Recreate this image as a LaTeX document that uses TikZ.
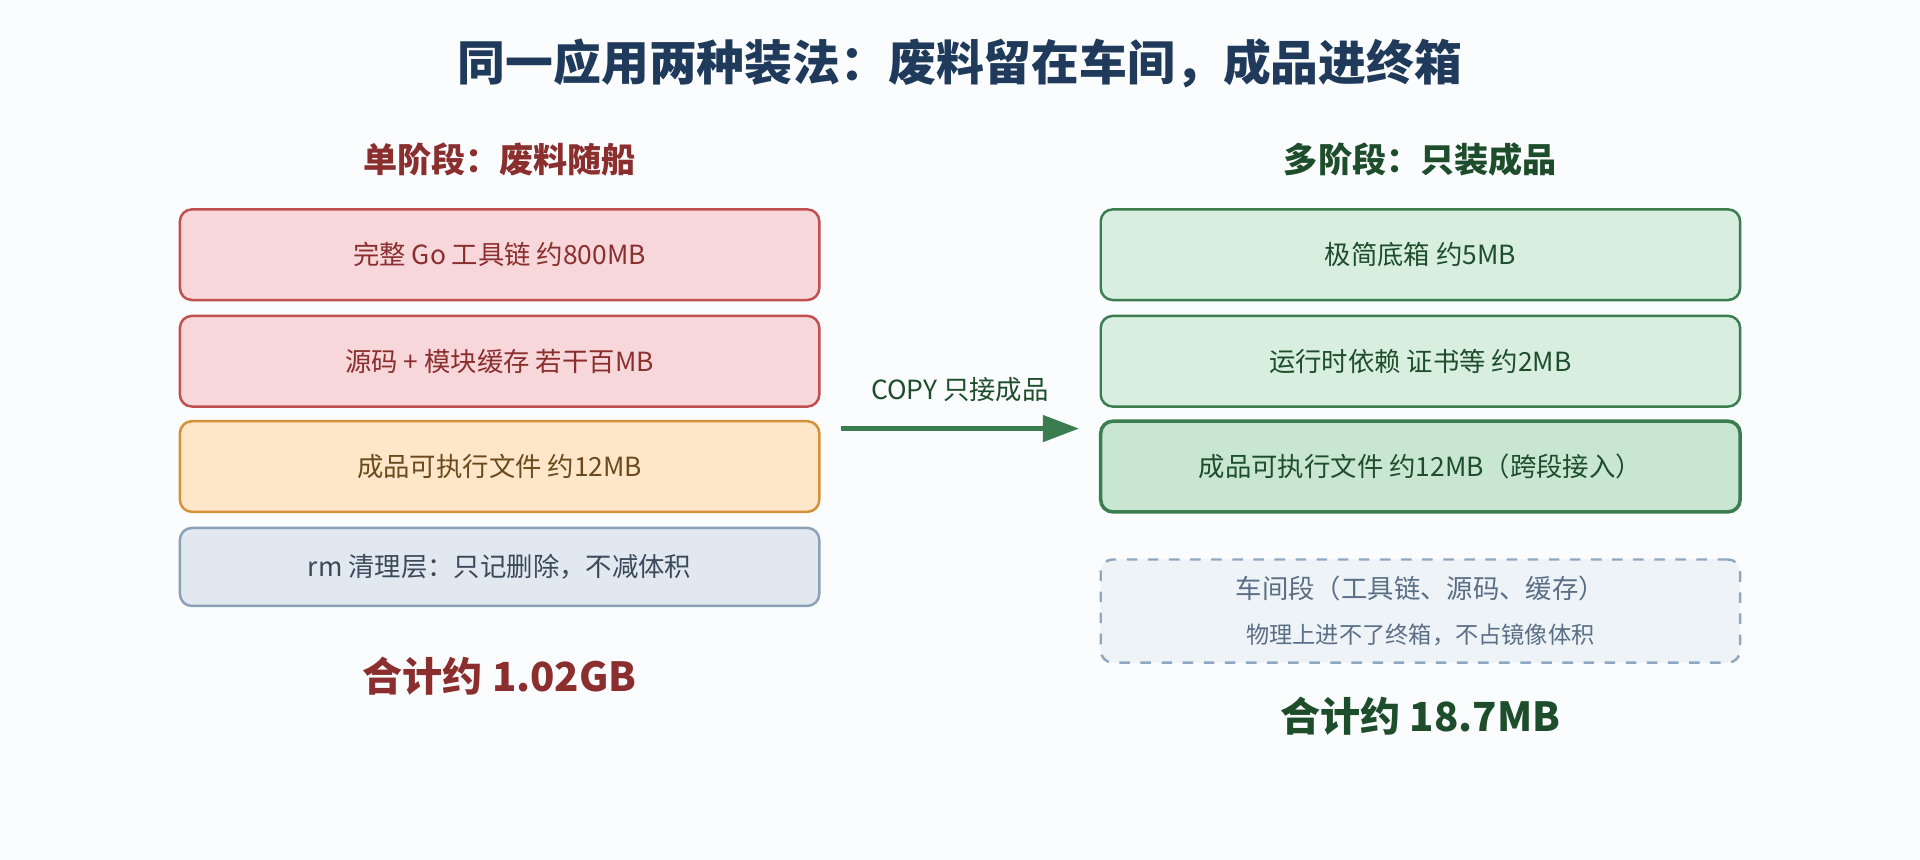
\documentclass[tikz,border=0pt]{standalone}
\usepackage{fontspec}
\setmainfont{Noto Sans CJK SC}
\usetikzlibrary{arrows.meta}
\definecolor{bg}{HTML}{FAFCFE}
\definecolor{navy}{HTML}{1F3A5A}
\definecolor{redtxt}{HTML}{8B2E2E}
\definecolor{redfill}{HTML}{F8D7DA}
\definecolor{redline}{HTML}{C0504D}
\definecolor{orfill}{HTML}{FDE7C8}
\definecolor{orline}{HTML}{D4913A}
\definecolor{orTxt}{HTML}{6B4A1E}
\definecolor{grfill}{HTML}{E2E8F0}
\definecolor{grline}{HTML}{8CA0B8}
\definecolor{grtxt}{HTML}{3A4A5A}
\definecolor{gntxt}{HTML}{1E4D2B}
\definecolor{gnfill}{HTML}{D8EFE0}
\definecolor{gnfill2}{HTML}{C8E6D2}
\definecolor{gnline}{HTML}{3B7D4F}
\definecolor{dsfill}{HTML}{EEF3F8}
\definecolor{dsline}{HTML}{8FA8C0}
\definecolor{dstxt}{HTML}{5A6E85}
\begin{document}
\begin{tikzpicture}[x=0.012245cm,y=-0.012245cm,
    box/.style={rectangle,rounded corners=0.12cm,line width=0.7pt,minimum width=6.39cm,minimum height=0.906cm,font=\fontsize{7.5}{9}\selectfont},
    redbox/.style={box,fill=redfill,draw=redline,text=redtxt},
    grnbox/.style={box,fill=gnfill,draw=gnline,text=gntxt},
    head/.style={font=\bfseries\fontsize{9.7}{11}\selectfont},
    total/.style={font=\bfseries\fontsize{11.4}{13}\selectfont}]
            % canvas
            \fill[bg] (0,0) rectangle (1568,702.3);
            \useasboundingbox (0,0) rectangle (1568,702.3);
            % title
            \node[text=navy,font=\bfseries\fontsize{13.6}{16}\selectfont] (title) at (784,52) {同一应用两种装法：废料留在车间，成品进终箱};
            % single stage
            \node[head,text=redtxt] (lhead) at (408,130) {单阶段：废料随船};
            \node[redbox] (l1) at (408,208) {完整 Go 工具链 约800MB};
            \node[redbox] (l2) at (408,295) {源码 + 模块缓存 若干百MB};
            \node[box,fill=orfill,draw=orline,text=orTxt] (l3) at (408,381) {成品可执行文件 约12MB};
            \node[box,fill=grfill,draw=grline,text=grtxt,minimum height=0.78cm] (l4) at (408,463) {rm 清理层：只记删除，不减体积};
            \node[total,text=redtxt] (ltotal) at (408,552) {合计约 1.02GB};
            % multi stage
            \node[head,text=gntxt] (rhead) at (1160,130) {多阶段：只装成品};
            \node[grnbox] (r1) at (1160,208) {极简底箱 约5MB};
            \node[grnbox] (r2) at (1160,295) {运行时依赖 证书等 约2MB};
            \node[grnbox,fill=gnfill2,line width=1pt] (r3) at (1160,381) {成品可执行文件 约12MB（跨段接入）};
            \node[box,fill=dsfill,draw=dsline,dashed,text=dstxt,minimum height=1.03cm,align=center] (r4) at (1160,499)
                {车间段（工具链、源码、缓存）\\[4pt]{\fontsize{6.6}{8}\selectfont 物理上进不了终箱，不占镜像体积}};
            \node[total,text=gntxt] (rtotal) at (1160,585) {合计约 18.7MB};
            % copy arrow
            \draw[-{Triangle[length=0.36cm,width=0.26cm]},line width=1.3pt,gnline,shorten >=0.2cm] (l3.east) ++(17,-31) coordinate (a0) (a0) -- (r3.west |- a0) coordinate (a1);
            \node[text=gntxt,font=\fontsize{7.5}{9}\selectfont] (clabel) at (784,318) {COPY 只接成品};
\end{tikzpicture}
\end{document}
